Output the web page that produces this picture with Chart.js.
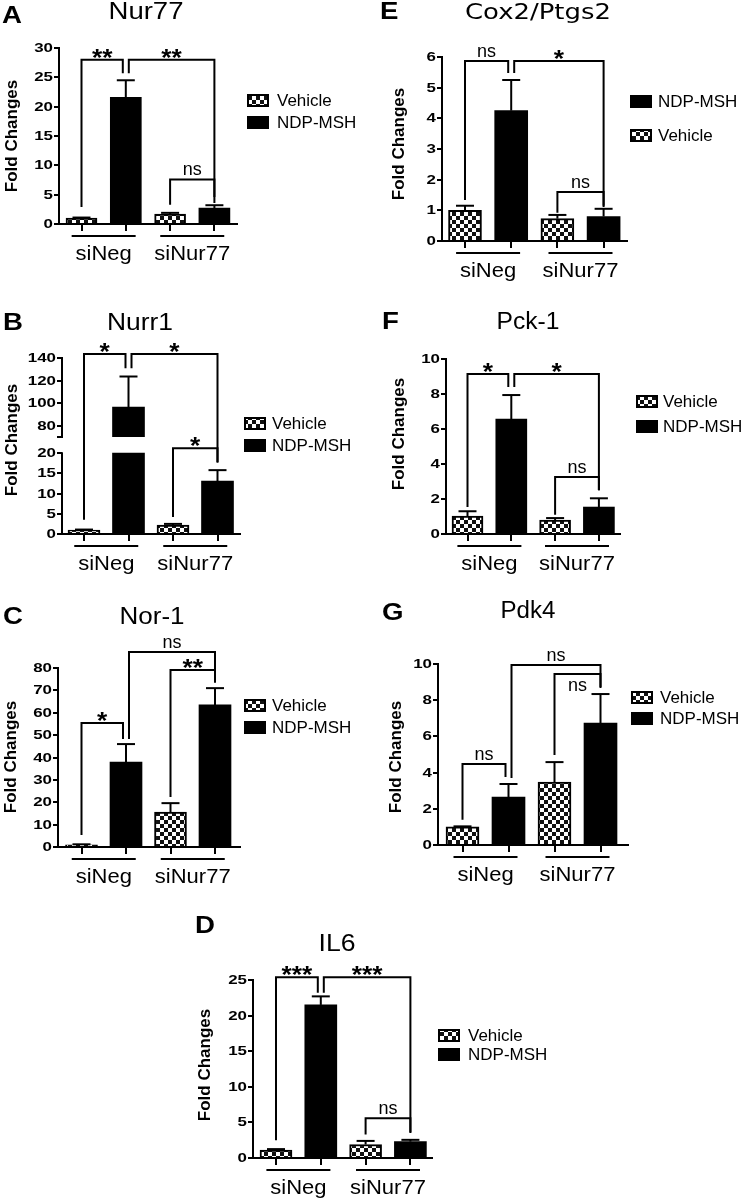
<!DOCTYPE html>
<html lang="en">
<head>
<meta charset="UTF-8" />
<title>Fold changes after siNur77 knockdown</title>
<script src="https://cdn.jsdelivr.net/npm/chart.js@4"></script>
<style>
  body { margin: 0; background: #fff; }
  #figure { position: relative; width: 742px; height: 1199px; overflow: hidden; background: #fff; }
  #figure canvas { position: absolute; left: 0; top: 0; }
</style>
</head>
<body>
<div id="figure"></div>
<script>
// ---------- data ----------
const groups = ["siNeg", "siNur77"];

// A  Nur77
const nur77Vehicle = [1.0, 1.7];
const nur77VehicleSem = [0.1, 0.2];
const nur77Ndp = [21.6, 2.7];
const nur77NdpSem = [2.9, 0.5];
const nur77Ticks = [0, 5, 10, 15, 20, 25, 30];
const nur77Brackets = [
  { from: 0, to: 1, y: 28, left: 2.9, right: 25.7, label: "**" },
  { from: 1, to: 3, y: 28, left: 25.7, right: 4.6, label: "**" },
  { from: 2, to: 3, y: 7.6, left: 3.3, right: 3.6, label: "ns" }
];

// B  Nurr1 (broken axis)
const nurr1Vehicle = [1.0, 2.2];
const nurr1VehicleSem = [0.1, 0.3];
const nurr1Ndp = [96.6, 13.1];
const nurr1NdpSem = [27, 2.7];
const nurr1LowTicks = [0, 5, 10, 15, 20];
const nurr1HighTicks = [70, 80, 100, 120, 140];
const nurr1HighLabels = ["", "80", "100", "120", "140"];
const nurr1Brackets = [
  { from: 0, to: 1, y: 143.5, left: 3.5, right: 131, label: "*" },
  { from: 1, to: 3, y: 143.5, left: 131, right: 17.6, label: "*" },
  { from: 2, to: 3, y: 21.2, left: 4.2, right: 17.8, label: "*" }
];

// C  Nor-1
const nor1Vehicle = [1.0, 15.6];
const nor1VehicleSem = [0.2, 4.0];
const nor1Ndp = [38, 63.5];
const nor1NdpSem = [8, 7.5];
const nor1Ticks = [0, 10, 20, 30, 40, 50, 60, 70, 80];
const nor1Brackets = [
  { from: 0, to: 1, y: 55.4, left: 5.4, right: 48.3, label: "*" },
  { from: 1, to: 3, y: 87.2, left: 48.3, right: 73.5, label: "ns" },
  { from: 2, to: 3, y: 79.1, left: 22.3, right: 73.5, label: "**" }
];

// D  IL6
const il6Vehicle = [1.1, 1.9];
const il6VehicleSem = [0.15, 0.5];
const il6Ndp = [21.5, 2.3];
const il6NdpSem = [1.2, 0.25];
const il6Ticks = [0, 5, 10, 15, 20, 25];
const il6Brackets = [
  { from: 0, to: 1, y: 25.4, left: 2.5, right: 23.2, label: "***" },
  { from: 1, to: 3, y: 25.4, left: 23.2, right: 3.5, label: "***" },
  { from: 2, to: 3, y: 5.6, left: 3.3, right: 3.6, label: "ns" }
];

// E  Cox2/Ptgs2
const cox2Vehicle = [1.0, 0.73];
const cox2VehicleSem = [0.15, 0.12];
const cox2Ndp = [4.25, 0.8];
const cox2NdpSem = [1.0, 0.25];
const cox2Ticks = [0, 1, 2, 3, 4, 5, 6];
const cox2Brackets = [
  { from: 0, to: 1, y: 5.87, left: 1.34, right: 5.48, label: "ns" },
  { from: 1, to: 3, y: 5.87, left: 5.48, right: 1.11, label: "*" },
  { from: 2, to: 3, y: 1.6, left: 0.92, right: 1.15, label: "ns" }
];

// F  Pck-1
const pck1Vehicle = [1.03, 0.8];
const pck1VehicleSem = [0.27, 0.11];
const pck1Ndp = [6.57, 1.54];
const pck1NdpSem = [1.37, 0.5];
const pck1Ticks = [0, 2, 4, 6, 8, 10];
const pck1Brackets = [
  { from: 0, to: 1, y: 9.14, left: 1.54, right: 8.4, label: "*" },
  { from: 1, to: 3, y: 9.14, left: 8.4, right: 2.5, label: "*" },
  { from: 2, to: 3, y: 3.26, left: 1.1, right: 2.5, label: "ns" }
];

// G  Pdk4
const pdk4Vehicle = [1.0, 3.48];
const pdk4VehicleSem = [0.03, 1.1];
const pdk4Ndp = [2.65, 6.74];
const pdk4NdpSem = [0.72, 1.6];
const pdk4Ticks = [0, 2, 4, 6, 8, 10];
const pdk4Brackets = [
  { from: 0, to: 1, y: 4.48, left: 1.4, right: 3.76, label: "ns" },
  { from: 1, to: 3, y: 9.94, left: 3.7, right: 8.73, label: "ns" },
  { from: 2, to: 3, y: 9.45, left: 4.97, right: 8.67, label: "ns", inside: true }
];

// ---------- panels ----------
const W = 742, H = 1199;
const Y_W = 30, X_H = 8;
const FONT = '"Liberation Sans", Arial, sans-serif';

const panels = [
  { letter: "A", title: "Nur77", vehicle: nur77Vehicle, vehicleSem: nur77VehicleSem, ndp: nur77Ndp, ndpSem: nur77NdpSem,
    ticks: nur77Ticks, yMax: 30, brackets: nur77Brackets, legendOrder: ["Vehicle", "NDP-MSH"],
    layout: { axisL: 59, axisR: 237, c0: 81.5, sp: 44.3, top: 48, bottom: 224, barW: 31,
      title: [146, 13, 75, 23], letter: [2, 17], ylab: [12, 136], legend: { x: 247, y: [100, 122], tx: 277 } } },
  { letter: "B", title: "Nurr1", vehicle: nurr1Vehicle, vehicleSem: nurr1VehicleSem, ndp: nurr1Ndp, ndpSem: nurr1NdpSem,
    broken: { lowTicks: nurr1LowTicks, highTicks: nurr1HighTicks, highLabels: nurr1HighLabels, lowMax: 24, lowTop: 20, highMin: 70, highMax: 140 },
    brackets: nurr1Brackets, legendOrder: ["Vehicle", "NDP-MSH"],
    layout: { axisL: 62, axisR: 240, c0: 84, sp: 44.5, top: 358, bottom: 534, breakY: 437, barW: 32,
      title: [140, 324, 66, 23], letter: [3, 324], ylab: [12, 440], legend: { x: 244, y: [423, 445], tx: 272 } } },
  { letter: "C", title: "Nor-1", vehicle: nor1Vehicle, vehicleSem: nor1VehicleSem, ndp: nor1Ndp, ndpSem: nor1NdpSem,
    ticks: nor1Ticks, yMax: 80, brackets: nor1Brackets, legendOrder: ["Vehicle", "NDP-MSH"],
    layout: { axisL: 58, axisR: 240, c0: 81.5, sp: 44.5, top: 668, bottom: 847, barW: 32,
      title: [152, 618, 65, 23], letter: [3, 618], ylab: [11, 757], legend: { x: 244, y: [705, 727], tx: 272 } } },
  { letter: "D", title: "IL6", vehicle: il6Vehicle, vehicleSem: il6VehicleSem, ndp: il6Ndp, ndpSem: il6NdpSem,
    ticks: il6Ticks, yMax: 25, brackets: il6Brackets, legendOrder: ["Vehicle", "NDP-MSH"],
    layout: { axisL: 253, axisR: 432, c0: 276, sp: 44.8, top: 980, bottom: 1158, barW: 32,
      title: [337, 945, 37, 23], letter: [195, 927], ylab: [205, 1065], legend: { x: 438, y: [1035, 1054], tx: 468 } } },
  { letter: "E", title: "Cox2/Ptgs2", titleFont: '"DejaVu Sans", Verdana, sans-serif',
    vehicle: cox2Vehicle, vehicleSem: cox2VehicleSem, ndp: cox2Ndp, ndpSem: cox2NdpSem,
    ticks: cox2Ticks, yMax: 6, brackets: cox2Brackets, legendOrder: ["NDP-MSH", "Vehicle"],
    layout: { axisL: 442, axisR: 627, c0: 465, sp: 46.2, top: 57, bottom: 241, barW: 33,
      title: [538, 13, 146, 22], letter: [380, 13], ylab: [399, 144], legend: { x: 630, y: [101, 135], tx: 658 } } },
  { letter: "F", title: "Pck-1", vehicle: pck1Vehicle, vehicleSem: pck1VehicleSem, ndp: pck1Ndp, ndpSem: pck1NdpSem,
    ticks: pck1Ticks, yMax: 10, brackets: pck1Brackets, legendOrder: ["Vehicle", "NDP-MSH"],
    layout: { axisL: 446, axisR: 620, c0: 467.5, sp: 43.8, top: 359, bottom: 534, barW: 31,
      title: [528, 323, 63, 23], letter: [382, 323], ylab: [399, 434], legend: { x: 636, y: [401, 426], tx: 663 } } },
  { letter: "G", title: "Pdk4", vehicle: pdk4Vehicle, vehicleSem: pdk4VehicleSem, ndp: pdk4Ndp, ndpSem: pdk4NdpSem,
    ticks: pdk4Ticks, yMax: 10, brackets: pdk4Brackets, legendOrder: ["Vehicle", "NDP-MSH"],
    layout: { axisL: 438, axisR: 628, c0: 462.5, sp: 46, top: 664, bottom: 845, barW: 33,
      title: [528, 612, 55, 23], letter: [382, 614], ylab: [396, 757], legend: { x: 631, y: [697, 718], tx: 660 } } }
];

// ---------- helpers ----------
function checkerPattern(ctx) {
  const tile = document.createElement("canvas");
  tile.width = 8; tile.height = 8;
  const g = tile.getContext("2d");
  g.fillStyle = "#fff"; g.fillRect(0, 0, 8, 8);
  g.fillStyle = "#111"; g.fillRect(0, 0, 4, 4); g.fillRect(4, 4, 4, 4);
  return ctx.createPattern(tile, "repeat");
}

function drawText(ctx, s, x, y, font, o) {
  o = o || {};
  ctx.save();
  ctx.font = font;
  ctx.fillStyle = "#000";
  ctx.textAlign = o.align || "center";
  ctx.textBaseline = o.base || "middle";
  let hs = o.hs || 1;
  if (o.width) hs = o.width / ctx.measureText(s).width;
  ctx.translate(x, y);
  if (o.rot) ctx.rotate(o.rot);
  ctx.scale(hs, 1);
  ctx.fillText(s, 0, 0);
  ctx.restore();
}

function seg(ctx, pts) {
  ctx.beginPath();
  ctx.moveTo(pts[0][0], pts[0][1]);
  for (let i = 1; i < pts.length; i++) ctx.lineTo(pts[i][0], pts[i][1]);
  ctx.stroke();
}

function panelPlugin(p) {
  return {
    id: "panel" + p.letter,
    afterDraw(chart) {
      const ctx = chart.ctx, L = p.layout, area = chart.chartArea;
      const xs = chart.scales.x;
      const xPix = i => xs.getPixelForValue(i);
      const yPix = v => {
        if (!p.broken) return chart.scales.y.getPixelForValue(v);
        return v <= p.broken.lowMax ? chart.scales.yLow.getPixelForValue(v) : chart.scales.yHigh.getPixelForValue(v);
      };
      ctx.save();
      ctx.strokeStyle = "#000";
      ctx.lineWidth = 2;
      ctx.lineJoin = "miter";

      // lower segment of a broken axis
      if (p.broken) seg(ctx, [[area.left, area.bottom + 1], [area.left, yPix(p.broken.lowTop) - 1]]);

      // y tick labels
      const tickFont = "bold 13px " + FONT;
      const axes = p.broken
        ? [["yLow", p.broken.lowTicks, p.broken.lowTicks.map(String)], ["yHigh", p.broken.highTicks, p.broken.highLabels]]
        : [["y", p.ticks, p.ticks.map(String)]];
      axes.forEach(([id, ticks, labels]) => {
        const sc = chart.scales[id];
        ticks.forEach((v, k) => drawText(ctx, labels[k], area.left - 6, sc.getPixelForValue(v) + 0.5, tickFont, { align: "right", hs: 1.3 }));
      });

      // error bars (upper)
      [[p.vehicle, p.vehicleSem, 0], [p.ndp, p.ndpSem, 1]].forEach(([means, sems, off]) => {
        means.forEach((m, g) => {
          const x = xPix(2 * g + off), y0 = yPix(m), y1 = yPix(m + sems[g]);
          seg(ctx, [[x, y0], [x, y1]]);
          seg(ctx, [[x - 9, y1], [x + 9, y1]]);
        });
      });

      // significance brackets
      const starts = new Set(p.brackets.map(b => b.from));
      const ends = new Set(p.brackets.map(b => b.to));
      p.brackets.forEach(b => {
        const xl = xPix(b.from) + (ends.has(b.from) ? 3 : 0);
        const xr = xPix(b.to) - (starts.has(b.to) ? 3 : 0);
        const yt = yPix(b.y);
        seg(ctx, [[xl, yPix(b.left)], [xl, yt], [xr, yt], [xr, yPix(b.right)]]);
        const mid = (xl + xr) / 2;
        if (b.label === "ns") {
          drawText(ctx, "ns", mid, b.inside ? yt + 17 : yt - 4, "18px " + FONT, { base: "alphabetic" });
        } else {
          drawText(ctx, b.label, mid, yt + 6, "bold 24px " + FONT, { base: "alphabetic", hs: 1.1 });
        }
      });

      // group underlines and labels
      groups.forEach((name, g) => {
        const mid = (xPix(2 * g) + xPix(2 * g + 1)) / 2;
        seg(ctx, [[mid - 32, area.bottom + 12], [mid + 32, area.bottom + 12]]);
        drawText(ctx, name, mid, area.bottom + 30, "20px " + FONT, { hs: 1.1 });
      });

      // legend
      p.legendOrder.forEach((name, k) => {
        const y = L.legend.y[k], x = L.legend.x;
        ctx.fillStyle = name === "Vehicle" ? p.pattern : "#000";
        ctx.fillRect(x, y - 6, 22, 13);
        ctx.strokeRect(x + 1, y - 5, 20, 11);
        drawText(ctx, name, L.legend.tx, y + 1, "17px " + FONT, { align: "left" });
      });

      // title, panel letter, axis title
      const [tx, ty, tw, ts] = L.title;
      drawText(ctx, p.title, tx, ty, ts + "px " + (p.titleFont || FONT), { width: tw });
      drawText(ctx, p.letter, L.letter[0], L.letter[1], "bold 23px " + FONT, { align: "left", hs: 1.2 });
      drawText(ctx, "Fold Changes", L.ylab[0], L.ylab[1], "bold 17px " + FONT, { rot: -Math.PI / 2 });
      ctx.restore();
    }
  };
}

function yScale(ticks) {
  return {
    type: "linear",
    position: "left",
    afterBuildTicks: s => { s.ticks = ticks.map(v => ({ value: v })); },
    afterFit: s => { s.width = Y_W; },
    ticks: { display: false },
    grid: { drawOnChartArea: false, drawTicks: true, tickLength: 5, color: "#000", lineWidth: 2 },
    border: { display: true, color: "#000", width: 2 }
  };
}

function buildPanel(p) {
  const fig = document.getElementById("figure");
  const canvas = document.createElement("canvas");
  canvas.width = W; canvas.height = H;
  fig.appendChild(canvas);
  const ctx = canvas.getContext("2d");
  p.pattern = checkerPattern(ctx);
  const L = p.layout;
  const barOpts = { grouped: false, barPercentage: 1, categoryPercentage: 1, maxBarThickness: L.barW };
  const vehPts = p.vehicle.map((v, g) => ({ x: 2 * g, y: v }));
  const vehSet = { label: "Vehicle", data: vehPts, backgroundColor: p.pattern, borderColor: "#000", borderWidth: 2, ...barOpts };

  let datasets, yScales;
  if (!p.broken) {
    datasets = [
      { ...vehSet, yAxisID: "y" },
      { label: "NDP-MSH", data: p.ndp.map((v, g) => ({ x: 2 * g + 1, y: v })), backgroundColor: "#000", yAxisID: "y", ...barOpts }
    ];
    yScales = { y: { ...yScale(p.ticks), min: 0, max: p.yMax } };
  } else {
    const B = p.broken;
    datasets = [
      { ...vehSet, yAxisID: "yLow" },
      { label: "NDP-MSH", data: p.ndp.map((v, g) => ({ x: 2 * g + 1, y: [0, Math.min(v, B.lowTop)] })),
        backgroundColor: "#000", yAxisID: "yLow", ...barOpts },
      { label: "NDP-MSH (upper)", data: p.ndp.map((v, g) => ({ x: 2 * g + 1, y: [B.highMin, v] })).filter(d => d.y[1] > B.highMin),
        backgroundColor: "#000", yAxisID: "yHigh", ...barOpts }
    ];
    const low = yScale(B.lowTicks), high = yScale(B.highTicks);
    yScales = {
      yLow: { ...low, min: 0, max: B.lowMax, stack: "broken", stackWeight: L.bottom - L.breakY, border: { display: false } },
      yHigh: { ...high, min: B.highMin, max: B.highMax, stack: "broken", stackWeight: L.breakY - L.top }
    };
  }

  new Chart(ctx, {
    type: "bar",
    data: { datasets },
    options: {
      responsive: false,
      animation: false,
      events: [],
      devicePixelRatio: 1,
      layout: { padding: { left: L.axisL - Y_W, right: W - L.axisR, top: L.top, bottom: H - L.bottom - X_H } },
      plugins: { legend: { display: false }, tooltip: { enabled: false } },
      scales: {
        x: {
          type: "linear",
          offset: false,
          min: (L.axisL - L.c0) / L.sp,
          max: (L.axisR - L.c0) / L.sp,
          afterBuildTicks: s => { s.ticks = [0, 1, 2, 3].map(v => ({ value: v })); },
          afterFit: s => { s.height = X_H; },
          ticks: { display: false },
          grid: { offset: false, drawOnChartArea: false, drawTicks: true, tickLength: 7, color: "#000", lineWidth: 2 },
          border: { display: true, color: "#000", width: 2 }
        },
        ...yScales
      }
    },
    plugins: [panelPlugin(p)]
  });
}

panels.forEach(buildPanel);
</script>
</body>
</html>
